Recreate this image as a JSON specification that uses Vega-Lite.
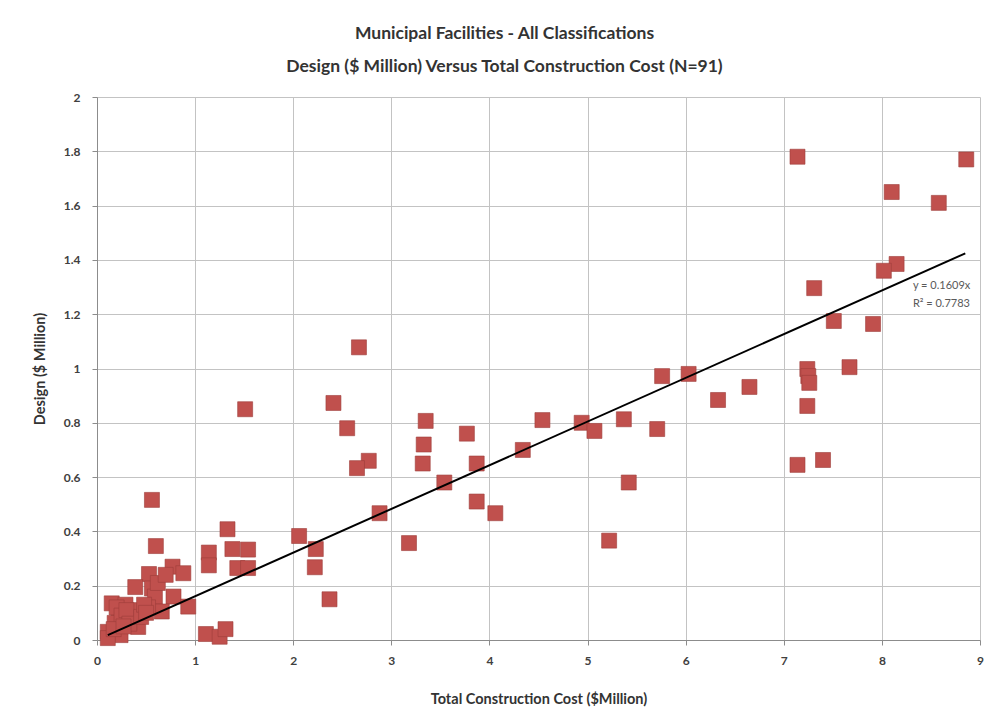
{
  "$schema": "https://vega.github.io/schema/vega-lite/v6.json",
  "width": 883,
  "height": 543,
  "autosize": {"type": "none"},
  "padding": {"left": 97, "top": 97, "right": 8, "bottom": 88},
  "background": "white",
  "title": {
    "text": ["Municipal Facilities - All Classifications", "Design  ($ Million) Versus Total Construction Cost  (N=91)"],
    "font": "Lato",
    "fontSize": 17.5,
    "fontWeight": "bold",
    "color": "#333333",
    "anchor": "middle",
    "dx": -34,
    "offset": 16,
    "lineHeight": 33
  },
  "datasets": {
    "projects": [
      {"cost": 7.14, "design": 1.78}, {"cost": 8.86, "design": 1.77}, {"cost": 8.10, "design": 1.65},
      {"cost": 8.58, "design": 1.61}, {"cost": 8.15, "design": 1.385}, {"cost": 8.02, "design": 1.36},
      {"cost": 7.31, "design": 1.296}, {"cost": 7.51, "design": 1.175}, {"cost": 7.91, "design": 1.164},
      {"cost": 7.67, "design": 1.005}, {"cost": 7.24, "design": 0.998}, {"cost": 7.25, "design": 0.972},
      {"cost": 7.26, "design": 0.947}, {"cost": 7.24, "design": 0.862}, {"cost": 6.65, "design": 0.932},
      {"cost": 6.33, "design": 0.884}, {"cost": 6.03, "design": 0.98}, {"cost": 5.76, "design": 0.972},
      {"cost": 4.94, "design": 0.80}, {"cost": 5.07, "design": 0.77}, {"cost": 5.37, "design": 0.813},
      {"cost": 5.71, "design": 0.777}, {"cost": 5.42, "design": 0.58}, {"cost": 5.22, "design": 0.366},
      {"cost": 7.14, "design": 0.645}, {"cost": 7.40, "design": 0.663}, {"cost": 4.54, "design": 0.81},
      {"cost": 4.34, "design": 0.70}, {"cost": 4.06, "design": 0.467}, {"cost": 3.87, "design": 0.51},
      {"cost": 3.87, "design": 0.65}, {"cost": 3.77, "design": 0.76}, {"cost": 3.54, "design": 0.58},
      {"cost": 3.35, "design": 0.807}, {"cost": 3.33, "design": 0.72}, {"cost": 3.32, "design": 0.65},
      {"cost": 3.18, "design": 0.357}, {"cost": 2.88, "design": 0.467}, {"cost": 2.77, "design": 0.66},
      {"cost": 2.65, "design": 0.633}, {"cost": 2.67, "design": 1.078}, {"cost": 2.41, "design": 0.873},
      {"cost": 2.55, "design": 0.78}, {"cost": 2.37, "design": 0.15}, {"cost": 2.23, "design": 0.335},
      {"cost": 2.22, "design": 0.268}, {"cost": 2.06, "design": 0.383}, {"cost": 1.51, "design": 0.85},
      {"cost": 1.33, "design": 0.408}, {"cost": 1.38, "design": 0.335}, {"cost": 1.54, "design": 0.333},
      {"cost": 1.14, "design": 0.322}, {"cost": 1.14, "design": 0.275}, {"cost": 1.43, "design": 0.265},
      {"cost": 1.54, "design": 0.265}, {"cost": 1.11, "design": 0.022}, {"cost": 1.25, "design": 0.012},
      {"cost": 1.31, "design": 0.04}, {"cost": 0.56, "design": 0.516}, {"cost": 0.60, "design": 0.346},
      {"cost": 0.53, "design": 0.243}, {"cost": 0.77, "design": 0.27}, {"cost": 0.88, "design": 0.246},
      {"cost": 0.39, "design": 0.195}, {"cost": 0.56, "design": 0.19}, {"cost": 0.59, "design": 0.16},
      {"cost": 0.78, "design": 0.16}, {"cost": 0.93, "design": 0.123}, {"cost": 0.15, "design": 0.135},
      {"cost": 0.29, "design": 0.13}, {"cost": 0.22, "design": 0.10}, {"cost": 0.42, "design": 0.11},
      {"cost": 0.66, "design": 0.105}, {"cost": 0.52, "design": 0.12}, {"cost": 0.36, "design": 0.074},
      {"cost": 0.18, "design": 0.063}, {"cost": 0.42, "design": 0.048}, {"cost": 0.11, "design": 0.03},
      {"cost": 0.24, "design": 0.018}, {"cost": 0.11, "design": 0.007}, {"cost": 0.20, "design": 0.12},
      {"cost": 0.25, "design": 0.09}, {"cost": 0.30, "design": 0.11}, {"cost": 0.33, "design": 0.06},
      {"cost": 0.45, "design": 0.085}, {"cost": 0.48, "design": 0.13}, {"cost": 0.62, "design": 0.21},
      {"cost": 0.70, "design": 0.24}, {"cost": 0.17, "design": 0.04}, {"cost": 0.27, "design": 0.05},
      {"cost": 0.50, "design": 0.10}
    ],
    "trend": [
      {"cost": 0.11, "design": 0.0177},
      {"cost": 8.85, "design": 1.424}
    ],
    "fit": [
      {"cost": 8.316, "design": 1.304, "label": "y = 0.1609x"},
      {"cost": 8.316, "design": 1.238, "label": "R² = 0.7783"}
    ]
  },
  "config": {
    "view": {"stroke": null},
    "axis": {
      "grid": true,
      "gridColor": "#c3c3c3",
      "gridWidth": 1,
      "domainColor": "#8c8c8c",
      "tickColor": "#8c8c8c",
      "tickSize": 5,
      "labelFlush": false,
      "labelFont": "Lato",
      "labelFontSize": 12,
      "labelFontWeight": "bold",
      "labelColor": "#404040",
      "titleFont": "Lato",
      "titleFontSize": 14.5,
      "titleFontWeight": "bold",
      "titleColor": "#333333"
    }
  },
  "layer": [
    {
      "data": {"name": "projects"},
      "mark": {"type": "square", "size": 225, "color": "#c0504d", "stroke": "#9e3e3b", "strokeWidth": 0.6, "opacity": 1},
      "encoding": {
        "x": {
          "field": "cost", "type": "quantitative",
          "scale": {"domain": [0, 9], "nice": false},
          "axis": {"values": [0, 1, 2, 3, 4, 5, 6, 7, 8, 9], "format": "~g", "labelPadding": 10, "title": "Total Construction  Cost ($Million)", "titlePadding": 26}
        },
        "y": {
          "field": "design", "type": "quantitative",
          "scale": {"domain": [0, 2], "nice": false},
          "axis": {"values": [0, 0.2, 0.4, 0.6, 0.8, 1, 1.2, 1.4, 1.6, 1.8, 2], "format": "~g", "labelPadding": 12, "title": "Design  ($ Million)", "titlePadding": 16}
        }
      }
    },
    {
      "data": {"name": "trend"},
      "mark": {"type": "line", "color": "#000000", "strokeWidth": 2},
      "encoding": {
        "x": {"field": "cost", "type": "quantitative"},
        "y": {"field": "design", "type": "quantitative"}
      }
    },
    {
      "data": {"name": "fit"},
      "mark": {"type": "text", "align": "left", "baseline": "middle", "font": "Lato", "fontSize": 11, "color": "#595959"},
      "encoding": {
        "x": {"field": "cost", "type": "quantitative"},
        "y": {"field": "design", "type": "quantitative"},
        "text": {"field": "label"}
      }
    }
  ]
}
